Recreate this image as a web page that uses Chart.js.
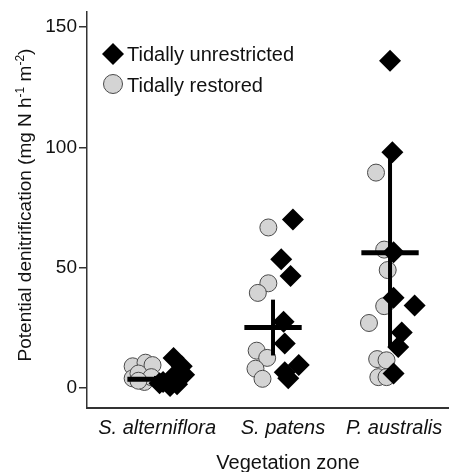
<!DOCTYPE html>
<html>
<head>
<meta charset="utf-8">
<script src="https://cdn.jsdelivr.net/npm/chart.js@4.4.0/dist/chart.umd.min.js"></script>
<style>
html, body { margin: 0; padding: 0; background: #fff; }
#wrap { width: 449px; height: 472px; }
</style>
</head>
<body>
<div id="wrap"><canvas id="denitChart"></canvas></div>
<script>
var zones = ["S. alterniflora", "S. patens", "P. australis"];
var zoneLabelPos = [1.01, 2.085, 3.035];
var yTicks = [0, 50, 100, 150];

// tidally unrestricted (black diamonds)
var unrestrictedVals = [
	[12.5, 9, 5.5, 4.5, 2.5, 0.8, 1.5, 2],
	[70, 53.5, 46.5, 27.5, 18.5, 9.5, 6.5, 4],
	[136, 98, 56.4, 37.5, 34.3, 23, 17, 6]
];
var unrestrictedJitter = [
	[0.15, 0.22, 0.24, 0.14, 0.06, 0.12, 0.18, 0.03],
	[0.17, 0.07, 0.15, 0.09, 0.10, 0.22, 0.10, 0.13],
	[0, 0.02, 0.03, 0.03, 0.21, 0.10, 0.07, 0.03]
];

// tidally restored (grey circles)
var restoredVals = [
	[9, 10.5, 9.5, 4, 6, 2.5, 4.5, 3],
	[66.7, 43.5, 39.5, 15.5, 12.5, 8, 3.8],
	[89.5, 57.5, 49, 34, 27, 12, 11.5, 4.5, 4.5]
];
var restoredJitter = [
	[-0.20, -0.09, -0.03, -0.20, -0.15, -0.10, -0.04, -0.15],
	[-0.04, -0.04, -0.13, -0.14, -0.05, -0.15, -0.09],
	[-0.12, -0.05, -0.02, -0.05, -0.18, -0.11, -0.03, -0.10, -0.03]
];

// mean and error bar per zone
var zoneMeans = [3.6, 25.1, 56.2];
var zoneLower = [2.2, 13.5, 17];
var zoneUpper = [5.0, 36.7, 95.5];

function toPoints(vals, jitter) {
	var pts = [];
	for (var z = 0; z < vals.length; z++) {
		for (var i = 0; i < vals[z].length; i++) {
			pts.push({ x: z + 1 + jitter[z][i], y: vals[z][i] });
		}
	}
	return pts;
}

var datasets = [];
for (var z = 0; z < zones.length; z++) {
	datasets.push({
		label: "mean " + zones[z],
		data: [{ x: z + 1 - 0.245, y: zoneMeans[z] }, { x: z + 1 + 0.245, y: zoneMeans[z] }],
		showLine: true, borderColor: "#000", borderWidth: 5, borderCapStyle: "butt",
		pointRadius: 0, order: 0
	});
	datasets.push({
		label: "error " + zones[z],
		data: [{ x: z + 1, y: zoneLower[z] }, { x: z + 1, y: zoneUpper[z] }],
		showLine: true, borderColor: "#000", borderWidth: 4, borderCapStyle: "butt",
		pointRadius: 0, order: 0
	});
}
datasets.push({
	label: "Tidally unrestricted",
	data: toPoints(unrestrictedVals, unrestrictedJitter),
	pointStyle: "rectRot", pointRadius: 11, backgroundColor: "#000",
	borderColor: "#000", borderWidth: 0, order: 1
});
datasets.push({
	label: "Tidally restored",
	data: toPoints(restoredVals, restoredJitter),
	pointStyle: "circle", pointRadius: 8.5, backgroundColor: "#d4d4d4",
	borderColor: "#4a4a4a", borderWidth: 1, order: 2
});

var fontFam = "'Liberation Sans', Arial, sans-serif";

// legend inside the plot, top left
var insideLegend = {
	id: "insideLegend",
	afterDraw: function(chart) {
		var ctx = chart.ctx;
		var a = chart.chartArea;
		var items = [
			{ ds: datasets[6], dy: 42, base: 49 },
			{ ds: datasets[7], dy: 72, base: 79.5 }
		];
		ctx.save();
		ctx.font = "20px " + fontFam;
		ctx.textBaseline = "alphabetic";
		items.forEach(function(it, k) {
			ctx.fillStyle = it.ds.backgroundColor;
			ctx.strokeStyle = it.ds.borderColor;
			ctx.lineWidth = it.ds.borderWidth;
			Chart.helpers.drawPoint(ctx, {
				pointStyle: it.ds.pointStyle,
				radius: k == 0 ? 11 : 9.5,
				rotation: 0,
				borderWidth: it.ds.borderWidth
			}, a.left + 26, a.top + it.dy);
			ctx.fillStyle = "#111";
			ctx.fillText(it.ds.label, a.left + 40, a.top + it.base);
		});
		ctx.restore();
	}
};

// axis titles: rotated y title with superscripts, x title a bit right of centre
var axisTitles = {
	id: "axisTitles",
	afterDraw: function(chart) {
		var ctx = chart.ctx;
		var parts = [
			["Potential denitrification (mg N h", 0],
			["-1", 1],
			[" m", 0],
			["-2", 1],
			[")", 0]
		];
		ctx.save();
		ctx.fillStyle = "#111";
		ctx.font = "20px " + fontFam;
		ctx.textAlign = "center";
		ctx.textBaseline = "alphabetic";
		ctx.fillText("Vegetation zone", 288, 469);

		ctx.textAlign = "left";
		var total = 0;
		parts.forEach(function(p) {
			ctx.font = (p[1] ? "12px " : "19px ") + fontFam;
			p.push(ctx.measureText(p[0]).width);
			total += p[2];
		});
		ctx.translate(31, 205);
		ctx.rotate(-Math.PI / 2);
		var x = -total / 2;
		parts.forEach(function(p) {
			ctx.font = (p[1] ? "12px " : "19px ") + fontFam;
			ctx.fillText(p[0], x, p[1] ? -7 : 0);
			x += p[2];
		});
		ctx.restore();
	}
};

var ctx = document.getElementById("denitChart").getContext("2d");
new Chart(ctx, {
	type: "scatter",
	data: { datasets: datasets },
	options: {
		responsive: true,
		maintainAspectRatio: false,
		animation: false,
		layout: { autoPadding: false, padding: { top: 12, right: 0, left: 0, bottom: 0 } },
		plugins: { legend: { display: false }, tooltip: { enabled: false } },
		scales: {
			x: {
				type: "linear",
				min: 0.41,
				max: 3.504,
				afterBuildTicks: function(s) {
					s.ticks = zoneLabelPos.map(function(v) { return { value: v }; });
				},
				afterFit: function(s) {
					s.height = 64;
					s.paddingLeft = 0;
					s.paddingRight = 0;
				},
				grid: { display: false, drawTicks: false },
				border: { display: true, color: "#333", width: 2 },
				ticks: {
					autoSkip: false,
					maxRotation: 0,
					padding: 8,
					color: "#111",
					font: { size: 20, style: "italic", family: fontFam },
					callback: function(v, i) { return zones[i]; }
				}
			},
			y: {
				min: -8.33,
				max: 156.25,
				afterBuildTicks: function(s) {
					s.ticks = yTicks.map(function(v) { return { value: v }; });
				},
				afterFit: function(s) {
					s.width = 87;
					s.paddingTop = 0;
					s.paddingBottom = 0;
				},
				grid: { drawOnChartArea: false, drawTicks: true, tickLength: 8, color: "#333", lineWidth: 1.5 },
				border: { display: true, color: "#333", width: 1.5 },
				ticks: {
					padding: 2,
					color: "#111",
					font: { size: 19, family: fontFam }
				}
			}
		}
	},
	plugins: [insideLegend, axisTitles]
});
</script>
</body>
</html>
